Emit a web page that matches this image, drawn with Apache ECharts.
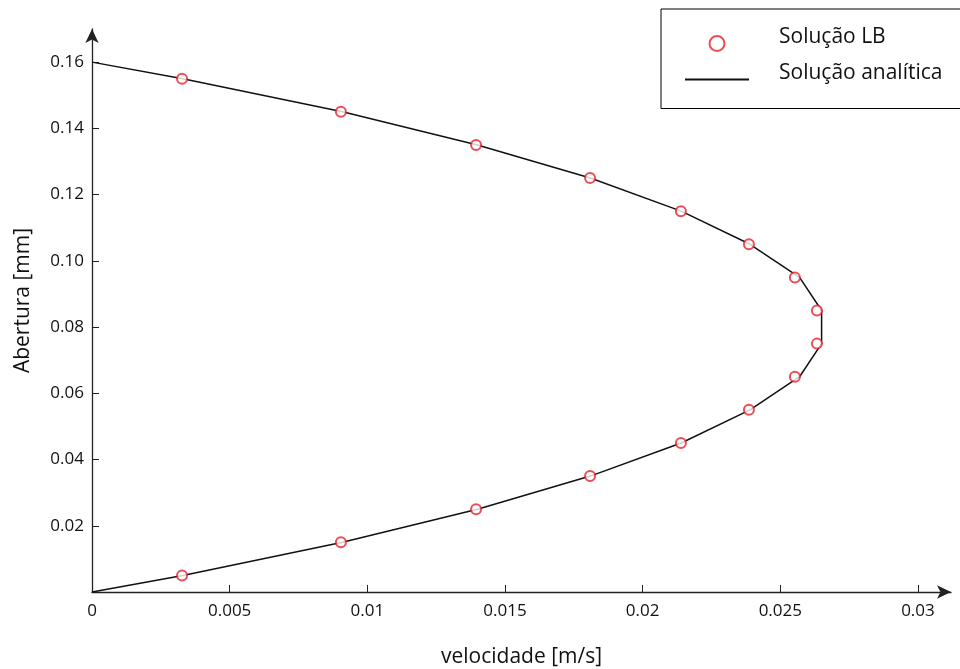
<!DOCTYPE html>
<html>
<head>
<meta charset="utf-8">
<script src="https://cdn.jsdelivr.net/npm/echarts@6/dist/echarts.min.js"></script>
<style>
  html, body { margin: 0; padding: 0; background: #fff; }
  #chart { width: 960px; height: 669px; }
</style>
</head>
<body>
<div id="chart"></div>
<script>
// Channel opening positions [mm] where the lattice-Boltzmann velocity is sampled
const lbGap = [0.005, 0.015, 0.025, 0.035, 0.045, 0.055, 0.065, 0.075,
               0.085, 0.095, 0.105, 0.115, 0.125, 0.135, 0.145, 0.155];
// Lattice-Boltzmann velocity [m/s]
const lbVel = [0.00327, 0.00904, 0.01395, 0.01809, 0.02139, 0.02386, 0.02553, 0.02633,
               0.02633, 0.02553, 0.02386, 0.02139, 0.01809, 0.01395, 0.00904, 0.00327];

// Analytical profile, vertices of the polyline
const anGap = [0, 0.005, 0.015, 0.025, 0.035, 0.045, 0.055, 0.065, 0.075,
               0.085, 0.095, 0.105, 0.115, 0.125, 0.135, 0.145, 0.155, 0.16];
const anVel = [0, 0.0033, 0.0091, 0.0140, 0.0181, 0.0214, 0.0239, 0.0257, 0.0265,
               0.0265, 0.0257, 0.0239, 0.0214, 0.0181, 0.0140, 0.0091, 0.0033, 0];

// Axis tick values
const xTicks = [0, 0.005, 0.01, 0.015, 0.02, 0.025, 0.03];
const yTicks = [0.02, 0.04, 0.06, 0.08, 0.10, 0.12, 0.14, 0.16];

const FONT = '"Open Sans", "Noto Sans", sans-serif';
const RED = '#e8202a';

const chart = echarts.init(document.getElementById('chart'), null, { renderer: 'canvas' });

chart.setOption({
  backgroundColor: '#ffffff',
  animation: false,
  grid: { left: 92, right: 9, top: 29, bottom: 77, containLabel: false, outerBoundsMode: 'none' },
  legend: {
    orient: 'vertical',
    left: 661,
    top: 9,
    padding: [18, 40, 23, 23],
    itemGap: 11,
    itemWidth: 64,
    itemHeight: 15,
    borderColor: '#000',
    borderWidth: 1,
    borderRadius: 0,
    formatter: name => '{t|' + name + '}',
    textStyle: {
      fontFamily: FONT, fontSize: 21, color: '#111',
      rich: { t: { fontFamily: FONT, fontSize: 21, color: '#111', padding: [0, 0, 12, 25] } }
    },
    data: [
      { name: 'Solução LB', icon: 'emptyCircle', itemStyle: { color: RED, borderColor: RED, borderWidth: 1 } },
      { name: 'Solução analítica', itemStyle: { opacity: 0 } }
    ]
  },
  xAxis: {
    type: 'value',
    min: 0,
    max: 0.0312,
    name: 'velocidade [m/s]',
    nameLocation: 'middle',
    nameGap: 55,
    nameTextStyle: { fontFamily: FONT, fontSize: 21, color: '#111' },
    axisLine: {
      show: true, onZero: false,
      lineStyle: { color: '#222', width: 1.3 },
      symbol: ['none', 'arrow'],
      symbolSize: [10, 14]
    },
    axisTick: { show: true, inside: true, length: 7, lineStyle: { color: '#222' }, customValues: xTicks },
    axisLabel: {
      fontFamily: FONT, fontSize: 17, color: '#111', margin: 11,
      customValues: xTicks,
      formatter: v => String(v)
    },
    splitLine: { show: false }
  },
  yAxis: {
    type: 'value',
    min: 0,
    max: 0.17,
    name: 'Abertura [mm]',
    nameLocation: 'middle',
    nameGap: 58,
    nameRotate: 90,
    nameTextStyle: { fontFamily: FONT, fontSize: 21, color: '#111', padding: [0, 0, 0, 20] },
    axisLine: {
      show: true, onZero: false,
      lineStyle: { color: '#222', width: 1.3 },
      symbol: ['none', 'arrow'],
      symbolSize: [10, 14]
    },
    axisTick: { show: true, inside: true, length: 7, lineStyle: { color: '#222' }, customValues: yTicks },
    axisLabel: {
      fontFamily: FONT, fontSize: 17, color: '#111', margin: 8,
      customValues: yTicks,
      formatter: v => v.toFixed(2)
    },
    splitLine: { show: false }
  },
  series: [
    {
      name: 'Solução LB',
      type: 'scatter',
      symbol: 'emptyCircle',
      symbolSize: 10,
      itemStyle: { color: RED, borderColor: RED, borderWidth: 1 },
      z: 3,
      data: lbVel.map((v, i) => [v, lbGap[i]])
    },
    {
      name: 'Solução analítica',
      type: 'line',
      symbol: 'none',
      lineStyle: { color: '#111', width: 1.5 },
      itemStyle: { color: '#111' },
      z: 2,
      data: anVel.map((v, i) => [v, anGap[i]])
    }
  ]
});
</script>
</body>
</html>
